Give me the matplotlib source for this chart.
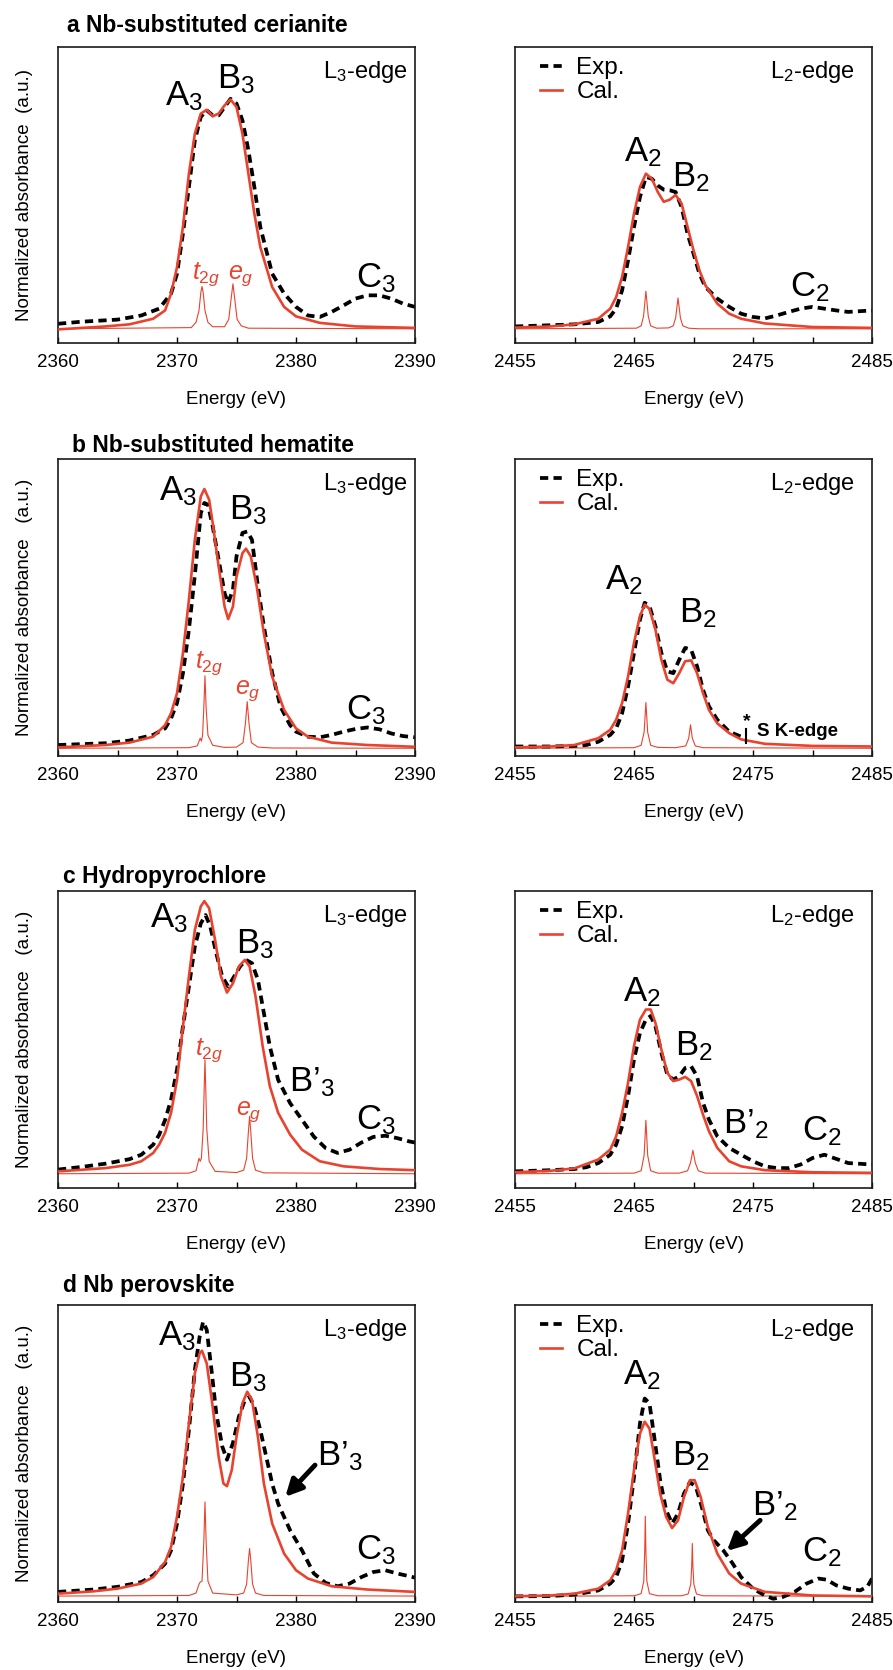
import matplotlib
matplotlib.use("Agg")
import matplotlib.pyplot as plt

plt.rcParams["font.family"] = ["Liberation Sans", "DejaVu Sans"]
plt.rcParams["mathtext.fontset"] = "custom"
plt.rcParams["mathtext.rm"] = "Liberation Sans"
plt.rcParams["mathtext.it"] = "Liberation Sans:italic"
plt.rcParams["mathtext.default"] = "regular"

RED = "#e8432e"

# ---- data: (energy eV, normalized absorbance) ----
# a Nb-substituted cerianite
a_l3_exp = [(2360, 0.065), (2362, 0.072), (2365, 0.079), (2367, 0.093), (2368.5, 0.116),
            (2369.5, 0.167), (2370, 0.234), (2370.5, 0.37), (2371, 0.527), (2371.5, 0.685),
            (2372, 0.764), (2372.5, 0.786), (2373, 0.769), (2373.5, 0.769), (2374, 0.797),
            (2374.5, 0.825), (2375, 0.809), (2375.5, 0.752), (2376, 0.651), (2376.5, 0.527),
            (2377, 0.392), (2378, 0.234), (2379, 0.167), (2380, 0.122), (2381, 0.093),
            (2382, 0.088), (2383, 0.105), (2384, 0.127), (2385, 0.15), (2386, 0.161),
            (2387, 0.161), (2388, 0.15), (2389, 0.133), (2390, 0.122)]
a_l3_cal = [(2360, 0.046), (2364, 0.056), (2366, 0.063), (2368, 0.082), (2369, 0.11),
            (2369.5, 0.167), (2370, 0.256), (2370.5, 0.392), (2371, 0.572), (2371.5, 0.707),
            (2372, 0.775), (2372.5, 0.788), (2373, 0.766), (2373.5, 0.775), (2374, 0.803),
            (2374.5, 0.823), (2375, 0.797), (2375.5, 0.707), (2376, 0.572), (2376.5, 0.437),
            (2377, 0.324), (2378, 0.189), (2379, 0.122), (2380, 0.09), (2382, 0.068),
            (2385, 0.056), (2390, 0.051)]
a_l3_stick = [(2360, 0.048), (2371.2, 0.052), (2371.6, 0.07), (2371.85, 0.11), (2372.0, 0.17),
              (2372.1, 0.191), (2372.2, 0.17), (2372.35, 0.11), (2372.6, 0.07), (2373.0, 0.055),
              (2374.0, 0.055), (2374.35, 0.08), (2374.55, 0.15), (2374.7, 0.2), (2374.85, 0.15),
              (2375.05, 0.08), (2375.4, 0.058), (2376, 0.05), (2390, 0.048)]
a_l2_exp = [(2455, 0.056), (2458, 0.06), (2460, 0.063), (2462, 0.071), (2463, 0.09),
            (2463.5, 0.116), (2464, 0.178), (2464.5, 0.279), (2465, 0.392), (2465.5, 0.493),
            (2466, 0.561), (2466.5, 0.555), (2467, 0.532), (2467.5, 0.518), (2468, 0.516),
            (2468.5, 0.51), (2469, 0.459), (2469.5, 0.369), (2470, 0.302), (2470.5, 0.234),
            (2471, 0.189), (2472, 0.15), (2473, 0.122), (2474, 0.099), (2475, 0.088),
            (2476, 0.083), (2477, 0.093), (2478, 0.105), (2479, 0.116), (2480, 0.122),
            (2481, 0.116), (2482, 0.11), (2483, 0.105), (2485, 0.11)]
a_l2_cal = [(2455, 0.052), (2458, 0.056), (2460, 0.063), (2462, 0.082), (2463, 0.116),
            (2463.5, 0.155), (2464, 0.223), (2464.5, 0.324), (2465, 0.437), (2465.5, 0.527),
            (2466, 0.572), (2466.5, 0.555), (2467, 0.51), (2467.5, 0.477), (2468, 0.484),
            (2468.5, 0.5), (2469, 0.471), (2469.5, 0.392), (2470, 0.313), (2470.5, 0.245),
            (2471, 0.195), (2472, 0.133), (2473, 0.099), (2474, 0.082), (2476, 0.066),
            (2480, 0.054), (2485, 0.051)]
a_l2_stick = [(2455, 0.048), (2465.2, 0.05), (2465.6, 0.058), (2465.8, 0.09), (2466.0, 0.175),
              (2466.2, 0.09), (2466.4, 0.058), (2466.9, 0.05), (2467.9, 0.051), (2468.3, 0.058),
              (2468.5, 0.085), (2468.7, 0.152), (2468.9, 0.085), (2469.1, 0.058), (2469.6, 0.05),
              (2470.5, 0.048), (2485, 0.048)]

# b Nb-substituted hematite
b_l3_exp = [(2360, 0.037), (2364, 0.043), (2366, 0.052), (2368, 0.071), (2369, 0.093),
            (2369.5, 0.127), (2370, 0.178), (2370.5, 0.279), (2371, 0.425), (2371.5, 0.609),
            (2372, 0.818), (2372.3, 0.852), (2372.6, 0.846), (2373, 0.773), (2373.5, 0.661),
            (2374, 0.548), (2374.3, 0.515), (2374.7, 0.56), (2375, 0.672), (2375.5, 0.751),
            (2375.9, 0.756), (2376.3, 0.728), (2376.8, 0.571), (2377.3, 0.436), (2378, 0.279),
            (2378.7, 0.166), (2379.5, 0.104), (2380, 0.082), (2381, 0.065), (2382, 0.063),
            (2383, 0.071), (2384, 0.082), (2385, 0.091), (2386, 0.096), (2387, 0.09),
            (2388, 0.076), (2389, 0.067), (2390, 0.063)]
b_l3_cal = [(2360, 0.029), (2364, 0.037), (2366, 0.045), (2368, 0.065), (2369, 0.104),
            (2369.5, 0.144), (2370, 0.211), (2370.5, 0.346), (2371, 0.526), (2371.5, 0.728),
            (2372, 0.874), (2372.3, 0.899), (2372.7, 0.863), (2373, 0.784), (2373.5, 0.638),
            (2374, 0.503), (2374.3, 0.461), (2374.7, 0.503), (2375, 0.604), (2375.5, 0.683),
            (2375.8, 0.698), (2376.2, 0.672), (2376.7, 0.571), (2377.3, 0.413), (2378, 0.267),
            (2379, 0.155), (2380, 0.093), (2381, 0.065), (2383, 0.045), (2386, 0.037),
            (2390, 0.031)]
b_l3_stick = [(2360, 0.026), (2371.0, 0.028), (2371.7, 0.034), (2371.95, 0.06), (2372.05, 0.05),
              (2372.15, 0.07), (2372.25, 0.16), (2372.35, 0.27), (2372.45, 0.16), (2372.6, 0.07),
              (2373.0, 0.036), (2374.0, 0.029), (2375.0, 0.03), (2375.55, 0.045), (2375.75, 0.11),
              (2375.9, 0.183), (2376.05, 0.11), (2376.25, 0.045), (2376.8, 0.03), (2378, 0.027),
              (2390, 0.026)]
b_l2_exp = [(2455, 0.032), (2458, 0.032), (2460, 0.034), (2461, 0.037), (2462, 0.048),
            (2463, 0.071), (2463.5, 0.093), (2464, 0.144), (2464.5, 0.234), (2465, 0.347),
            (2465.5, 0.459), (2465.9, 0.516), (2466.3, 0.505), (2466.8, 0.437), (2467.3, 0.347),
            (2467.8, 0.285), (2468.3, 0.279), (2468.8, 0.324), (2469.3, 0.364), (2469.8, 0.358),
            (2470.3, 0.302), (2470.8, 0.223), (2471.3, 0.167), (2472, 0.122), (2473, 0.082),
            (2474, 0.065), (2474.4, 0.054)]
b_l2_cal = [(2455, 0.029), (2458, 0.032), (2460, 0.037), (2462, 0.06), (2463, 0.088),
            (2463.5, 0.122), (2464, 0.178), (2464.5, 0.268), (2465, 0.381), (2465.5, 0.471),
            (2465.9, 0.51), (2466.3, 0.495), (2466.8, 0.426), (2467.3, 0.324), (2467.8, 0.257),
            (2468.3, 0.245), (2468.8, 0.279), (2469.3, 0.319), (2469.8, 0.322), (2470.3, 0.279),
            (2470.8, 0.212), (2471.3, 0.155), (2472, 0.11), (2473, 0.077), (2474, 0.056),
            (2476, 0.041), (2480, 0.034), (2485, 0.032)]
b_l2_stick = [(2455, 0.026), (2465.0, 0.028), (2465.6, 0.036), (2465.85, 0.08), (2466.0, 0.18),
              (2466.15, 0.08), (2466.4, 0.036), (2467.0, 0.029), (2468.5, 0.028), (2469.35, 0.034),
              (2469.6, 0.06), (2469.75, 0.105), (2469.9, 0.06), (2470.15, 0.034), (2470.8, 0.028),
              (2485, 0.026)]

# c Hydropyrochlore
c_l3_exp = [(2360, 0.062), (2362, 0.071), (2364, 0.082), (2366, 0.097), (2367, 0.112),
            (2368, 0.146), (2368.5, 0.179), (2369, 0.229), (2369.5, 0.297), (2370, 0.398),
            (2370.5, 0.544), (2371, 0.678), (2371.5, 0.813), (2372, 0.891), (2372.4, 0.919),
            (2372.8, 0.88), (2373.3, 0.79), (2373.8, 0.712), (2374.3, 0.678), (2374.8, 0.712),
            (2375.3, 0.746), (2375.8, 0.768), (2376.3, 0.757), (2376.8, 0.701), (2377.3, 0.589),
            (2377.8, 0.477), (2378.5, 0.364), (2379.5, 0.286), (2380.5, 0.23), (2381.5, 0.173),
            (2382.5, 0.134), (2383.5, 0.118), (2384.5, 0.129), (2385.5, 0.153), (2386.5, 0.172),
            (2387.5, 0.176), (2388.5, 0.168), (2389.5, 0.157), (2390, 0.153)]
c_l3_cal = [(2360, 0.056), (2364, 0.067), (2366, 0.078), (2367, 0.09), (2368, 0.118),
            (2368.5, 0.146), (2369, 0.186), (2369.5, 0.253), (2370, 0.364), (2370.5, 0.544),
            (2371, 0.712), (2371.5, 0.869), (2372, 0.948), (2372.3, 0.966), (2372.7, 0.942),
            (2373.2, 0.835), (2373.7, 0.712), (2374.2, 0.658), (2374.7, 0.689), (2375.2, 0.746),
            (2375.7, 0.768), (2376.1, 0.746), (2376.6, 0.645), (2377.2, 0.477), (2377.8, 0.343),
            (2378.5, 0.253), (2379.5, 0.18), (2380.5, 0.129), (2382, 0.09), (2384, 0.073),
            (2387, 0.064), (2390, 0.06)]
c_l3_stick = [(2360, 0.048), (2371.0, 0.05), (2371.6, 0.058), (2371.85, 0.1), (2371.95, 0.09),
              (2372.05, 0.1), (2372.2, 0.2), (2372.3, 0.36), (2372.35, 0.432), (2372.4, 0.36),
              (2372.5, 0.2), (2372.7, 0.09), (2373.2, 0.056), (2375.0, 0.052), (2375.6, 0.06),
              (2375.85, 0.1), (2376.0, 0.19), (2376.1, 0.241), (2376.2, 0.19), (2376.35, 0.1),
              (2376.6, 0.06), (2377.3, 0.051), (2390, 0.048)]
c_l2_exp = [(2455, 0.056), (2458, 0.06), (2460, 0.064), (2461, 0.07), (2462, 0.084),
            (2463, 0.112), (2463.5, 0.146), (2464, 0.208), (2464.5, 0.309), (2465, 0.433),
            (2465.5, 0.522), (2466, 0.567), (2466.4, 0.579), (2466.8, 0.545), (2467.3, 0.455),
            (2467.8, 0.382), (2468.3, 0.365), (2468.8, 0.376), (2469.3, 0.404), (2469.8, 0.41),
            (2470.3, 0.376), (2470.8, 0.287), (2471.3, 0.23), (2472, 0.174), (2473, 0.135),
            (2474, 0.112), (2475, 0.09), (2476, 0.073), (2477, 0.067), (2478, 0.067),
            (2479, 0.079), (2480, 0.101), (2481, 0.112), (2482, 0.098), (2483, 0.084),
            (2485, 0.079)]
c_l2_cal = [(2455, 0.053), (2458, 0.058), (2460, 0.066), (2462, 0.096), (2463, 0.129),
            (2463.5, 0.174), (2464, 0.253), (2464.5, 0.354), (2465, 0.478), (2465.5, 0.567),
            (2466, 0.601), (2466.4, 0.601), (2466.8, 0.556), (2467.3, 0.466), (2467.8, 0.388),
            (2468.3, 0.36), (2468.8, 0.365), (2469.3, 0.374), (2469.8, 0.36), (2470.3, 0.31),
            (2470.8, 0.247), (2471.3, 0.191), (2472, 0.135), (2473, 0.09), (2474, 0.073),
            (2476, 0.06), (2480, 0.053), (2485, 0.051)]
c_l2_stick = [(2455, 0.048), (2465.0, 0.05), (2465.6, 0.058), (2465.85, 0.11), (2466.0, 0.228),
              (2466.15, 0.11), (2466.4, 0.058), (2467.0, 0.05), (2468.8, 0.05), (2469.5, 0.058),
              (2469.75, 0.085), (2469.95, 0.127), (2470.15, 0.085), (2470.4, 0.058), (2471.0, 0.05),
              (2485, 0.048)]

# d Nb perovskite
d_l3_exp = [(2360, 0.034), (2363, 0.042), (2365, 0.051), (2367, 0.067), (2368, 0.09),
            (2369, 0.129), (2369.5, 0.174), (2370, 0.264), (2370.5, 0.398), (2371, 0.579),
            (2371.5, 0.781), (2371.9, 0.893), (2372.2, 0.944), (2372.5, 0.916), (2372.9, 0.781),
            (2373.3, 0.635), (2373.8, 0.524), (2374.2, 0.479), (2374.7, 0.535), (2375.2, 0.624),
            (2375.7, 0.68), (2376.1, 0.691), (2376.5, 0.657), (2377, 0.579), (2377.5, 0.489),
            (2378, 0.398), (2378.5, 0.331), (2379.5, 0.242), (2380.5, 0.174), (2381.5, 0.096),
            (2382.5, 0.064), (2383.5, 0.053), (2384.5, 0.062), (2385.5, 0.084), (2386.5, 0.101),
            (2387.5, 0.107), (2388.5, 0.096), (2389.5, 0.087), (2390, 0.082)]
d_l3_cal = [(2360, 0.028), (2363, 0.036), (2365, 0.045), (2367, 0.062), (2368, 0.084),
            (2369, 0.135), (2369.5, 0.185), (2370, 0.287), (2370.5, 0.421), (2371, 0.601),
            (2371.5, 0.77), (2371.9, 0.837), (2372.1, 0.846), (2372.5, 0.803), (2373, 0.657),
            (2373.5, 0.489), (2373.9, 0.399), (2374.2, 0.39), (2374.6, 0.444), (2375, 0.556),
            (2375.5, 0.669), (2375.9, 0.708), (2376.3, 0.68), (2376.8, 0.556), (2377.3, 0.399),
            (2378, 0.264), (2379, 0.163), (2380, 0.107), (2381, 0.079), (2383, 0.053),
            (2386, 0.042), (2390, 0.034)]
d_l3_stick = [(2360, 0.02), (2371.0, 0.022), (2371.6, 0.03), (2371.85, 0.06), (2371.95, 0.067),
              (2372.1, 0.07), (2372.25, 0.2), (2372.35, 0.337), (2372.45, 0.2), (2372.6, 0.07),
              (2373.0, 0.03), (2375.0, 0.024), (2375.6, 0.03), (2375.85, 0.06), (2376.0, 0.14),
              (2376.1, 0.18), (2376.2, 0.14), (2376.35, 0.06), (2376.6, 0.03), (2377.3, 0.022),
              (2390, 0.02)]
d_l2_exp = [(2455, 0.019), (2458, 0.02), (2460, 0.025), (2462, 0.039), (2463, 0.062),
            (2463.5, 0.084), (2464, 0.14), (2464.5, 0.264), (2465, 0.421), (2465.5, 0.601),
            (2465.9, 0.685), (2466.3, 0.669), (2466.7, 0.556), (2467.2, 0.41), (2467.7, 0.309),
            (2468.2, 0.264), (2468.7, 0.298), (2469.2, 0.365), (2469.7, 0.404), (2470.2, 0.388),
            (2470.7, 0.32), (2471.2, 0.242), (2471.7, 0.208), (2472.5, 0.174), (2473.3, 0.129),
            (2474, 0.084), (2475, 0.045), (2476, 0.022), (2476.7, 0.011), (2477.5, 0.017),
            (2478.5, 0.034), (2479.5, 0.062), (2480.5, 0.079), (2481.2, 0.075), (2482, 0.056),
            (2483, 0.045), (2484, 0.039), (2484.6, 0.051), (2485, 0.079)]
d_l2_cal = [(2455, 0.019), (2458, 0.022), (2460, 0.028), (2462, 0.045), (2463, 0.073),
            (2463.5, 0.107), (2464, 0.174), (2464.5, 0.298), (2465, 0.444), (2465.5, 0.567),
            (2465.9, 0.607), (2466.3, 0.584), (2466.7, 0.489), (2467.2, 0.365), (2467.7, 0.287),
            (2468.2, 0.249), (2468.7, 0.275), (2469.2, 0.354), (2469.7, 0.41), (2470.1, 0.41),
            (2470.6, 0.354), (2471.2, 0.253), (2472, 0.163), (2473, 0.096), (2474, 0.062),
            (2476, 0.034), (2480, 0.022), (2485, 0.019)]
d_l2_stick = [(2455, 0.019), (2465.0, 0.021), (2465.6, 0.028), (2465.82, 0.07), (2465.9, 0.17),
              (2465.95, 0.289), (2466.0, 0.17), (2466.08, 0.07), (2466.3, 0.028), (2467.0, 0.021),
              (2469.0, 0.021), (2469.55, 0.027), (2469.77, 0.06), (2469.85, 0.12), (2469.9, 0.197),
              (2469.95, 0.12), (2470.03, 0.06), (2470.25, 0.027), (2470.8, 0.021), (2485, 0.019)]

titles = ["a Nb-substituted cerianite", "b Nb-substituted hematite",
          "c Hydropyrochlore", "d Nb perovskite"]
l3_ticks = [2360, 2370, 2380, 2390]
l2_ticks = [2455, 2465, 2475, 2485]

# ---- layout (figure pixels 893 x 1670) ----
W, H = 893, 1670
fig = plt.figure(figsize=(W / 100, H / 100), dpi=100)

row_px = [(47, 343), (459, 756), (891, 1188), (1305, 1602)]
title_px = [(67, 31.7), (72, 451.7), (63, 882.7), (63, 1292.3)]


def make_ax(x0, x1, y0, y1):
    return fig.add_axes([x0 / W, 1 - y1 / H, (x1 - x0) / W, (y1 - y0) / H])


def draw(ax, exp, cal, stick, ticks, legend=False):
    ax.plot([p[0] for p in stick], [p[1] for p in stick], color=RED, lw=0.8, zorder=1)
    ax.plot([p[0] for p in exp], [p[1] for p in exp], color="black", lw=2.7,
            dashes=(2.2, 1.4), label="Exp.", zorder=2)
    ax.plot([p[0] for p in cal], [p[1] for p in cal], color=RED, lw=1.9,
            label="Cal.", zorder=3)
    ax.set_xlim(ticks[0], ticks[-1])
    ax.set_ylim(0, 1)
    ax.set_xticks(ticks)
    ax.set_xticks([t + 5 for t in ticks[:-1]], minor=True)
    ax.set_yticks([])
    ax.tick_params(axis="x", which="both", direction="in", length=4, width=1,
                   labelsize=13.5, pad=8)
    for s in ax.spines.values():
        s.set_linewidth(1.2)
        s.set_color("#1a1a1a")
    ax.set_xlabel("Energy (eV)", fontsize=13.5, labelpad=14)
    if legend:
        ax.legend(loc="upper left", bbox_to_anchor=(0.07, 0.965), frameon=False,
                  fontsize=17.5, handlelength=0.9, handletextpad=0.6,
                  labelspacing=0.08, borderpad=0, borderaxespad=0)


panels = [
    (a_l3_exp, a_l3_cal, a_l3_stick, a_l2_exp, a_l2_cal, a_l2_stick),
    (b_l3_exp, b_l3_cal, b_l3_stick, b_l2_exp, b_l2_cal, b_l2_stick),
    (c_l3_exp, c_l3_cal, c_l3_stick, c_l2_exp, c_l2_cal, c_l2_stick),
    (d_l3_exp, d_l3_cal, d_l3_stick, d_l2_exp, d_l2_cal, d_l2_stick),
]

axes = []
for i, (e3, c3, s3, e2, c2, s2) in enumerate(panels):
    y0, y1 = row_px[i]
    axl = make_ax(58, 415, y0, y1)
    axr = make_ax(515, 872, y0, y1)
    draw(axl, e3, c3, s3, l3_ticks)
    draw(axr, e2, c2, s2, l2_ticks, legend=True)
    gap = "  " if i == 0 else "   "
    axl.set_ylabel("Normalized absorbance" + gap + "(a.u.)", fontsize=13.5)
    axl.yaxis.set_label_coords(-0.07, 0.5)
    axl.text(0.979, 0.896, "L$_3$-edge", transform=axl.transAxes, ha="right",
             va="baseline", fontsize=17)
    axr.text(0.952, 0.896, "L$_2$-edge", transform=axr.transAxes, ha="right",
             va="baseline", fontsize=17)
    tx, ty = title_px[i]
    fig.text(tx / W, 1 - ty / H, titles[i], fontsize=16.5, fontweight="bold",
             ha="left", va="baseline")
    axes.append((axl, axr))


def lab(ax, x, y, s, size=25, color="black"):
    ax.text(x, y, s, fontsize=size, color=color, ha="left", va="baseline", zorder=5)


TSZ = 18  # t2g / eg label size

# a
axl, axr = axes[0]
lab(axl, 2369.0, 0.803, "A$_3$")
lab(axl, 2373.4, 0.859, "B$_3$")
lab(axl, 2385.0, 0.189, "C$_3$")
lab(axl, 2371.3, 0.217, r"$\mathit{t_{2g}}$", TSZ, RED)
lab(axl, 2374.25, 0.217, r"$\mathit{e_g}$", TSZ, RED)
lab(axr, 2464.17, 0.614, "A$_2$")
lab(axr, 2468.2, 0.529, "B$_2$")
lab(axr, 2478.1, 0.158, "C$_2$")

# b
axl, axr = axes[1]
lab(axl, 2368.45, 0.861, "A$_3$")
lab(axl, 2374.4, 0.798, "B$_3$")
lab(axl, 2384.2, 0.124, "C$_3$")
lab(axl, 2371.5, 0.296, r"$\mathit{t_{2g}}$", TSZ, RED)
lab(axl, 2374.9, 0.211, r"$\mathit{e_g}$", TSZ, RED)
lab(axr, 2462.6, 0.561, "A$_2$")
lab(axr, 2468.8, 0.45, "B$_2$")
axr.plot([2474.45, 2474.45], [0.045, 0.09], color="black", lw=1.5, zorder=4)
axr.text(2474.45, 0.1, "*", fontsize=14, fontweight="bold", ha="center", va="baseline")
axr.text(2475.3, 0.082, "S K-edge", fontsize=13.5, fontweight="bold", ha="left",
         va="center")

# c
axl, axr = axes[2]
lab(axl, 2367.75, 0.878, "A$_3$")
lab(axl, 2375.0, 0.79, "B$_3$")
lab(axl, 2379.37, 0.325, "B\u2019$_3$")
lab(axl, 2385.05, 0.198, "C$_3$")
lab(axl, 2371.48, 0.448, r"$\mathit{t_{2g}}$", TSZ, RED)
lab(axl, 2374.97, 0.247, r"$\mathit{e_g}$", TSZ, RED)
lab(axr, 2464.08, 0.629, "A$_2$")
lab(axr, 2468.46, 0.447, "B$_2$")
lab(axr, 2472.5, 0.183, "B\u2019$_2$")
lab(axr, 2479.08, 0.16, "C$_2$")

# d
axl, axr = axes[3]
lab(axl, 2368.37, 0.865, "A$_3$")
lab(axl, 2374.4, 0.725, "B$_3$")
lab(axl, 2381.75, 0.461, "B\u2019$_3$")
lab(axl, 2385.05, 0.143, "C$_3$")
axl.annotate("", xy=(2379.1, 0.354), xytext=(2381.6, 0.461),
             arrowprops=dict(arrowstyle="-|>", color="black", lw=3.5,
                             mutation_scale=25, shrinkA=0, shrinkB=0))
lab(axr, 2464.08, 0.734, "A$_2$")
lab(axr, 2468.2, 0.461, "B$_2$")
lab(axr, 2474.88, 0.292, "B\u2019$_2$")
lab(axr, 2479.08, 0.137, "C$_2$")
axr.annotate("", xy=(2472.8, 0.172), xytext=(2475.6, 0.275),
             arrowprops=dict(arrowstyle="-|>", color="black", lw=3.5,
                             mutation_scale=25, shrinkA=0, shrinkB=0))

fig.savefig("out.png", dpi=100)
